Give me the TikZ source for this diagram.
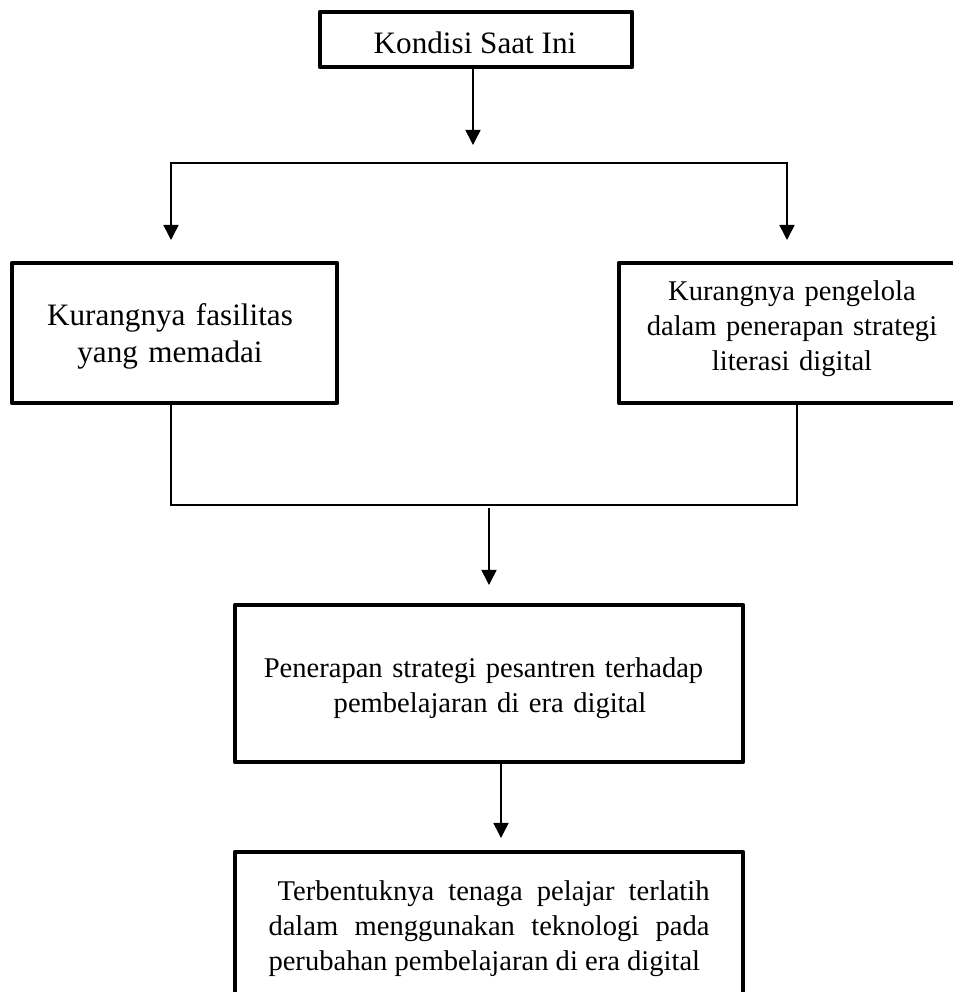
\documentclass[tikz,border=0pt]{standalone}
\usepackage{fontspec}
\setmainfont{Liberation Serif}
\usetikzlibrary{arrows.meta,fit}
\begin{document}
\begin{tikzpicture}[x=0.385pt,y=-0.385pt,
  box/.style={draw, line width=1.65pt, line join=round, inner sep=0pt},
  conn/.style={line width=0.6pt},
  tip/.tip={Triangle[length=5.8pt,width=5.8pt]},
  arr/.style={conn, -tip},
  bigtext/.style={font=\fontsize{12pt}{14.6pt}\selectfont, inner sep=0pt},
  smalltext/.style={font=\fontsize{11pt}{13.5pt}\selectfont, inner sep=0pt},
]
\useasboundingbox (0,0) rectangle (953,992);
\clip (0,0) rectangle (953,992);

% boxes
\node[box, fit={(320,12) (632,67)}] (top) {};
\node[bigtext, anchor=base] (ttop) at (475,53) {Kondisi Saat Ini};

\node[box, fit={(12,263) (337,403)}] (left) {};
\node[bigtext, anchor=base, text width=110pt, align=center] (tleft) at (170,325)
  {Kurangnya fasilitas\\yang memadai};

\node[box, fit={(619,263) (965,403)}] (right) {};
\node[smalltext, anchor=base, text width=120pt, align=center] (tright) at (792,300)
  {Kurangnya pengelola\\dalam penerapan strategi\\literasi digital\hspace*{10pt}};

\node[box, fit={(235,605) (743,762)}] (mid) {};
\node[smalltext, anchor=base, text width=180pt, align=center] (tmid) at (483.5,677)
  {Penerapan strategi pesantren terhadap\\\hspace*{5pt}pembelajaran di era digital};

\node[box, fit={(235,852) (743,1010)}] (bot) {};
\node[smalltext, anchor=base west, text width=169.8pt, align=justify] (tbot) at (268,900)
  {\hspace*{3.5pt}Terbentuknya tenaga pelajar terlatih\linebreak dalam menggunakan teknologi pada\linebreak perubahan pembelajaran di era digital};

% connectors
\coordinate (a1) at (473,145);
\draw[arr] (top.south -| a1) -- (a1);

\coordinate (bl) at (171,163);
\coordinate (br) at (787,163);
\coordinate (al) at (171,240);
\coordinate (ar) at (787,240);
\draw[conn, tip-tip] (al) -- (bl) -- (br) -- (ar);

\coordinate (ml) at (171,505);
\coordinate (mr) at (797,505);
\draw[conn] (left.south -| ml) -- (ml) -- (mr) -- (right.south -| mr);

\coordinate (a2s) at (489,508);
\coordinate (a2) at (489,585);
\draw[arr] (a2s) -- (a2);

\coordinate (a3) at (501,838);
\draw[arr] (mid.south -| a3) -- (a3);
\end{tikzpicture}
\end{document}
